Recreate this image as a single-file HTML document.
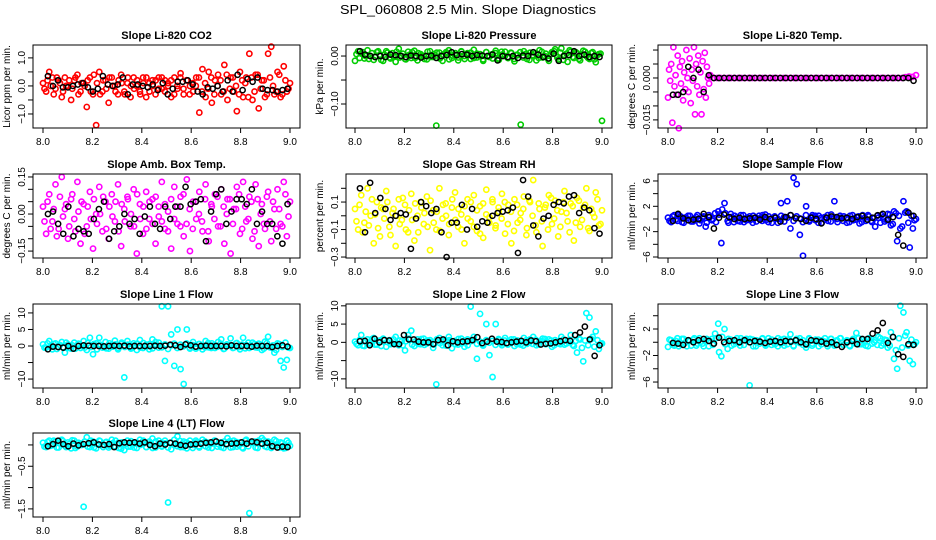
<!DOCTYPE html>
<html><head><meta charset="utf-8"><style>
html,body{margin:0;padding:0;background:#fff;}
svg{display:block;font-family:"Liberation Sans",sans-serif;}
</style></head><body>
<svg id="chart" width="936" height="540" viewBox="0 0 936 540" xmlns="http://www.w3.org/2000/svg">
<text x="468" y="14" text-anchor="middle" font-size="13" textLength="256" lengthAdjust="spacingAndGlyphs">SPL_060808  2.5 Min. Slope Diagnostics</text>
</svg>
<script>
const xTicks=[8.0,8.2,8.4,8.6,8.8,9.0];
const xTickLabels=["8.0","8.2","8.4","8.6","8.8","9.0"];

const co2=[0.1,-0.2,0.5,0.3,-0.1,0.2,-0.4,0.3,0.0,-0.5,0.2,0.4,-0.2,0.1,-0.75,0.3,-0.3,-1.4,0.5,-0.2,0.2,-0.6,0.3,0.0,-0.3,0.4,-0.2,0.1,-0.4,0.3,0.0,-0.2,0.3,-0.4,0.1,0.2,-0.3,0.3,-0.1,0.2,0.0,-0.4,0.3,-0.1,0.45,-0.3,0.2,0.0,-0.2,0.3,-0.95,0.6,-0.4,0.5,-0.6,0.2,0.4,-0.3,0.75,-0.5,0.3,-0.2,-0.9,0.5,-0.4,0.3,1.15,-0.5,0.4,-0.8,0.2,-0.4,1.15,1.4,-0.3,0.5,-0.4,0.7,-0.2,0.1];
const co2B=[-0.1,0.2,0.0,-0.3,0.3,0.1,-0.2,0.0,0.2,-0.1,0.3,-0.3,0.1,0.0,0.2,-0.2,0.4,0.1,-0.3,0.2,-0.1,0.3,0.0,-0.2,0.2,0.1,-0.3,0.3,0.0,-0.1,0.2,-0.3,0.1,0.3,-0.2,0.0,0.2,-0.1,0.3,-0.2,0.1,0.2,-0.3,0.0,0.3,-0.1,0.2,-0.3,0.1,0.0,0.3,-0.2,0.1,-0.1,0.3,-0.3,0.0,0.2,-0.2,0.4,-0.1,0.3,0.0,-0.3,0.2,0.1,-0.4,0.3,-0.2,0.4,-0.1,0.2,-0.3,0.3,0.0,-0.2,0.4,-0.3,0.2,-0.1];
const co2Black=[0.35,0.0,0.2,-0.05,-0.05,0.0,0.05,0.1,-0.05,-0.2,-0.1,0.35,0.05,0.0,0.05,0.3,-0.3,0.05,0.05,0.0,-0.05,0.05,-0.15,0.1,-0.3,-0.1,0.15,0.15,0.2,0.05,-0.2,-0.3,-0.05,-0.1,0.0,-0.2,0.2,-0.2,0.4,-0.15,0.25,0.15,0.3,-0.1,-0.15,-0.15,-0.2,-0.15,-0.1];
const pressure=[-0.01,0.01,0.005,-0.005,0.012,0.0,-0.008,0.008,0.003,-0.01,0.01,-0.003,0.006,-0.012,0.015,0.0,-0.006,0.009,-0.004,0.011,-0.009,0.004,0.0,-0.007,0.01,-0.002,-0.145,0.007,-0.01,0.005,0.012,-0.004,0.002,-0.009,0.01,0.0,0.006,-0.006,0.013,-0.003,0.004,-0.01,0.008,0.0,-0.005,0.011,-0.008,0.003,0.009,-0.004,0.006,-0.011,0.002,-0.143,0.01,-0.006,0.007,0.0,-0.009,0.012,-0.003,0.005,-0.01,0.008,0.014,-0.007,0.016,0.002,-0.012,0.009,-0.004,0.006,-0.009,0.011,0.0,-0.006,0.008,-0.013,0.004,-0.135];
const pressureB=[0.004,-0.004,0.008,0.0,-0.006,0.006,-0.002,0.01,-0.008,0.003,0.007,-0.005,0.0,0.009,-0.003,0.005,-0.007,0.002,0.008,-0.004,0.006,0.0,-0.006,0.009,-0.002,0.004,0.007,-0.005,0.003,0.008,-0.007,0.001,0.006,-0.003,0.009,-0.006,0.002,0.007,-0.004,0.005,0.0,-0.007,0.008,-0.002,0.004,0.006,-0.005,0.009,0.0,-0.004,0.007,-0.006,0.003,0.008,-0.003,0.005,-0.008,0.002,0.006,-0.004,0.009,0.0,-0.006,0.004,0.01,-0.003,0.007,-0.008,0.005,0.012,-0.002,0.008,-0.006,0.003,0.009,-0.004,0.006,-0.007,0.002,0.005];
const pressureBlack=[0.01,0.003,0.0,-0.002,0.0,-0.002,0.003,0.002,0.0,-0.002,0.001,0.0,-0.003,0.0,0.001,-0.004,0.0,0.002,0.008,0.002,0.004,0.003,0.0,0.002,0.001,0.0,0.003,-0.009,0.0,-0.002,0.0,-0.004,0.001,0.0,0.008,0.003,-0.002,-0.005,0.005,-0.01,0.0,0.002,0.01,0.0,0.003,-0.002,0.0,-0.002];
const tempEarly=[-0.007,0.003,-0.001,0.005,-0.016,0.011,-0.003,0.001,-0.006,0.008,-0.018,0.004,-0.002,0.006,-0.008,0.002,-0.004,0.01,0.0,-0.005,0.007,-0.009,0.003,-0.001,0.011,-0.013,0.005,-0.003,0.008,-0.006,0.002,-0.013,0.006,-0.004,0.009,-0.007,0.004,0.0,-0.002,0.001];
const tempLate=[0.0005,0,0,0,0,0,0,0,0,0,0,0,0,0,0,0,0,0,0,0,0,0,0,0,0,0,0,0,0,0,0,0,0,0,0,0,0,0,0,0,0,0,0,0,0,0,0,0,0,0,0,0,0,0,0,0,0.0003,0.0005,0.0004,0.001];
const tempBlack=[-0.006,-0.006,-0.005,0.004,0.0,0.003,-0.005,0.001,0,0,0,0,0,0,0,0,0,0,0,0,0,0,0,0,0,0,0,0,0,0,0,0,0,0,0,0,0,0,0,0,0,0,0,0,0,0,0,-0.001];
const ambTemp=[0.03,-0.08,0.08,-0.03,0.12,-0.06,0.15,0.02,-0.1,0.06,-0.02,0.13,-0.12,0.04,-0.05,0.09,-0.14,0.0,0.11,-0.07,0.05,-0.1,0.08,-0.03,0.12,-0.13,0.02,0.07,-0.05,0.1,-0.16,0.04,-0.08,0.09,-0.02,0.06,-0.12,0.03,0.13,-0.06,0.01,-0.14,0.11,-0.04,0.07,-0.09,0.14,-0.15,0.05,-0.02,0.09,-0.07,0.12,-0.11,0.03,0.08,-0.05,0.1,-0.12,0.06,-0.16,0.02,0.11,-0.08,0.13,-0.03,0.07,-0.1,0.12,-0.13,0.04,-0.06,0.09,-0.11,0.02,0.1,-0.04,0.13,-0.09,0.05];
const ambTempB=[-0.03,0.05,-0.06,0.02,-0.09,0.07,-0.01,0.04,-0.05,0.08,-0.07,0.01,0.05,-0.08,0.03,-0.02,0.06,-0.04,0.0,0.07,-0.06,0.03,-0.01,0.05,-0.07,0.04,-0.03,0.06,0.0,-0.05,0.08,-0.02,0.03,-0.06,0.05,-0.04,0.07,-0.01,-0.03,0.04,-0.07,0.06,-0.02,0.03,-0.05,0.08,-0.04,0.02,-0.06,0.05,0.0,-0.03,0.06,-0.07,0.04,-0.02,0.07,-0.05,0.03,0.0,0.06,-0.04,0.02,0.08,-0.06,0.03,-0.02,0.05,-0.07,0.06,0.0,-0.04,0.07,-0.03,0.05,-0.06,0.02,-0.05,0.08,-0.01];
const ambTempBlack=[0.0,0.01,-0.04,-0.08,0.03,-0.09,-0.06,-0.07,-0.08,-0.02,0.02,0.05,-0.1,-0.07,-0.05,0.0,-0.04,-0.02,-0.08,-0.01,0.03,-0.04,-0.06,0.03,-0.02,0.03,0.03,0.11,0.04,0.05,0.06,-0.11,0.01,0.08,0.1,-0.04,0.01,0.06,0.06,0.04,0.1,-0.04,0.01,-0.04,-0.04,-0.09,-0.12,0.04];
const gasRH=[0.05,-0.1,0.15,-0.05,0.2,0.0,-0.2,0.1,-0.15,0.05,0.18,-0.08,0.02,-0.22,0.12,-0.03,0.08,-0.12,0.16,-0.18,0.0,0.1,-0.06,0.14,-0.25,0.04,-0.1,0.2,-0.02,0.09,-0.14,0.06,0.17,-0.08,0.01,-0.2,0.12,-0.04,0.15,-0.11,0.07,-0.16,0.19,-0.01,0.1,-0.07,0.03,0.16,-0.13,0.08,-0.2,0.12,-0.05,0.02,0.14,-0.09,0.1,0.26,-0.12,0.05,-0.22,0.08,0.15,-0.06,0.11,-0.15,0.03,0.18,-0.04,0.09,-0.18,0.13,-0.08,0.06,0.2,-0.11,0.02,0.17,-0.07,0.04];
const gasRHB=[-0.04,0.08,-0.12,0.03,-0.07,0.12,0.01,-0.09,0.06,-0.02,0.1,-0.14,0.05,0.0,-0.06,0.13,-0.1,0.04,-0.03,0.09,-0.12,0.06,0.02,-0.08,0.11,-0.05,0.03,-0.11,0.08,0.0,-0.06,0.12,-0.03,0.05,-0.1,0.07,-0.02,0.1,-0.08,0.04,-0.13,0.09,0.01,-0.05,0.12,-0.09,0.06,-0.02,0.1,-0.06,0.03,-0.11,0.08,-0.03,0.05,-0.14,0.11,0.0,-0.07,0.09,-0.04,0.06,-0.1,0.13,-0.02,0.04,-0.08,0.1,0.02,-0.12,0.07,-0.05,0.11,-0.03,0.08,-0.09,0.05,-0.01,0.12,-0.06];
const gasRHBlack=[0.2,-0.12,0.24,0.02,0.13,0.05,-0.03,0.0,0.02,0.01,-0.24,-0.02,0.1,0.07,0.02,0.05,-0.12,-0.3,-0.05,-0.05,0.08,-0.1,0.05,-0.08,-0.04,-0.05,0.0,0.02,0.03,0.04,0.06,-0.27,0.26,0.14,-0.07,-0.15,-0.02,0.0,0.08,0.1,0.09,0.14,0.15,0.02,0.06,0.04,-0.09,-0.13];
const sampleFlow=[0.2,-0.5,0.6,-0.3,0.4,-0.6,0.1,0.5,-0.4,0.3,-0.7,0.2,-1.2,0.6,-0.2,0.9,1.2,-3.8,2.5,-0.3,0.8,-0.5,0.3,-0.4,0.6,-0.2,0.4,-0.6,0.2,0.5,-0.3,0.7,-0.5,0.1,0.4,-0.6,2.5,0.3,2.8,-1.5,6.5,5.5,-2.5,-5.8,2.0,-0.4,0.6,-0.2,0.5,-0.6,0.3,-0.3,0.7,2.8,-0.5,0.2,0.4,-0.6,0.5,-0.2,0.3,-0.7,0.6,-0.3,0.4,-0.5,-1.2,0.2,0.6,-0.4,0.8,-1.0,1.2,-3.5,-1.5,2.8,1.2,-4.5,-1.5,0.0];
const sampleFlowB=[-0.3,0.4,-0.1,0.6,-0.5,0.2,0.5,-0.4,0.1,0.6,-0.2,0.4,-0.6,0.3,0.0,-0.5,0.7,1.5,0.9,-0.6,0.3,0.5,-0.3,0.6,-0.5,0.2,-0.2,0.5,-0.4,0.1,0.6,-0.2,0.4,-0.6,0.3,0.0,0.5,-0.4,0.2,0.6,-0.3,0.4,0.1,-0.5,0.6,-0.2,0.3,0.5,-0.6,0.2,-0.1,0.6,-0.4,0.3,0.0,0.5,-0.3,0.2,-0.5,0.6,-0.1,0.4,-0.5,0.2,0.6,-0.3,0.1,0.5,-0.6,0.3,-0.2,0.7,-0.8,0.9,0.5,-1.2,1.0,-0.6,0.5,-0.2];
const sampleFlowBlack=[-0.3,0.8,0.1,-0.2,-0.1,0.0,0.8,0.3,-1.5,0.2,0.7,0.3,0.0,0.2,0.0,0.1,0.2,-0.1,0.3,0.0,0.2,-0.4,0.3,0.6,0.1,0.0,-0.3,0.2,0.0,-0.7,0.2,0.4,0.3,0.1,0.2,0.0,0.3,0.5,-0.1,0.2,0.6,0.8,-0.1,0.3,-2.5,-4.2,1.0,0.5];
const line1=[0.5,-0.5,1.5,-1.0,0.8,-0.3,1.2,-2.0,0.5,-0.8,1.0,0.2,-0.6,1.5,-1.2,2.5,-2.5,0.8,2.5,-0.5,1.2,-0.8,0.3,1.6,-1.0,0.6,-9.5,1.5,-0.4,0.8,-1.2,1.8,-0.6,0.4,-1.0,2.0,1.2,-0.5,12,-4.5,12,3.5,-6,5,-7,-11.5,5,-0.8,1.2,-0.3,0.6,-1.0,1.5,-0.4,0.8,-0.6,1.2,2.0,-0.8,0.4,2.3,-0.5,0.9,-1.0,2.5,0.3,-0.6,1.0,-0.4,0.7,-1.2,1.3,2.8,-0.5,-2.0,0.8,-4.5,-6.5,-4.2,-0.6];
const line1B=[-0.5,0.8,-0.2,0.6,-0.9,0.3,-0.4,1.0,-0.6,0.2,-0.8,0.7,0.0,-0.5,0.9,-0.3,0.6,-1.0,0.4,0.0,-0.7,0.8,-0.2,0.5,-0.6,1.0,-0.3,0.4,-0.8,0.2,0.7,-0.5,0.9,-0.2,0.6,-0.7,0.3,1.0,-0.4,0.5,-0.9,0.2,0.7,-0.6,0.4,-0.1,0.8,-0.5,0.3,-0.8,0.6,0.0,-0.4,0.9,-0.6,0.3,-0.2,0.7,-0.9,0.5,0.1,-0.6,0.8,-0.3,0.4,-0.7,1.0,-0.2,0.6,-0.5,0.3,-0.8,0.9,-0.4,0.2,-1.2,0.6,-0.3,1.0,-0.5];
const line1Black=[-1.0,-0.2,-0.3,-0.5,0.0,-0.8,0.0,0.2,0.1,0.0,0.0,-0.1,0.0,0.1,0.0,0.1,-0.1,0.0,0.0,0.0,0.0,0.1,0.0,0.1,0.4,0.2,-0.3,0.5,0.2,-0.2,0.0,0.1,0.0,0.0,0.0,-0.1,0.2,0.0,0.0,0.0,-0.2,0.1,0.0,0.0,-0.3,0.0,0.2,-0.2];
const line2=[0.2,-0.8,2.0,-1.0,0.8,-0.4,1.2,-0.6,0.5,1.0,-1.2,0.6,-0.3,1.5,-0.8,0.3,-2.2,2.0,3.2,-1.0,0.8,-0.5,1.0,-0.3,0.6,-1.5,-11.5,1.2,-0.8,0.5,1.5,-1.6,0.4,-0.6,1.0,-1.2,0.8,9.8,1.5,-4.5,7.8,-0.6,5,-3.5,-9.5,5,0.6,-0.8,1.2,-0.3,0.8,-1.0,0.5,-0.6,1.2,-0.4,0.8,1.5,-0.8,0.3,1.0,-0.5,0.8,-1.2,0.6,-0.3,1.5,-0.6,0.4,2.0,-1.0,-2.8,0.8,-5.2,8,6.8,1.5,3,-1.8,-0.3];
const line2B=[-0.4,0.6,-0.9,0.3,-0.2,0.9,-0.6,0.4,-1.0,0.7,0.1,-0.5,0.8,-0.3,0.5,-0.8,0.3,1.0,-0.6,0.2,-0.4,0.9,-0.7,0.5,0.0,-0.6,0.8,-0.2,0.4,-0.9,0.6,0.2,-0.5,0.9,-0.3,0.5,-0.8,0.3,0.7,-0.4,0.2,-0.9,0.6,-0.1,0.4,-0.7,0.9,-0.3,0.5,-0.6,0.2,0.8,-0.5,0.3,-0.9,0.6,0.0,-0.4,0.7,-0.6,0.4,0.9,-0.2,0.5,-0.8,0.3,-0.5,0.8,-0.3,0.6,-0.7,0.4,1.0,-1.5,0.5,-0.8,0.9,-1.2,0.6,-0.4];
const line2Black=[0.3,0.4,-0.8,1.0,0.0,0.6,0.5,-0.5,-0.5,2.0,0.8,0.8,0.2,0.0,0.0,-0.5,0.6,0.8,-0.8,0.3,0.0,0.2,0.3,0.6,1.4,-0.2,0.2,1.0,0.2,0.1,-0.2,0.0,0.2,0.4,0.0,0.5,0.3,-0.6,-0.4,-0.3,0.0,0.3,0.6,0.4,2.0,2.7,4.3,0.8,-3.7,-0.8];
const line3=[-0.7,0.3,-0.5,0.6,-0.3,0.5,-0.6,0.2,0.4,-0.5,0.6,-0.2,0.3,-0.6,0.5,1.3,2.8,-2.1,2.0,-1.0,0.4,-0.3,0.6,-0.5,0.3,0.5,-6.5,0.4,-0.6,0.2,0.5,-0.3,0.6,-0.4,0.2,-0.6,0.4,0.5,-0.3,1.2,-0.5,0.3,0.6,-0.4,-0.8,0.5,-0.2,0.4,-0.6,0.3,0.6,-0.3,0.5,-0.5,0.2,0.6,-0.4,0.3,-0.6,0.5,1.4,-0.3,0.4,-0.5,0.6,-0.2,0.3,0.8,-0.5,0.4,-0.8,1.5,-2.5,-4.0,5.5,4.5,1.5,-2.8,-3.3,0.0];
const line3B=[0.4,-0.4,0.2,-0.6,0.5,-0.1,0.3,-0.5,0.6,-0.2,0.1,-0.6,0.5,0.2,-0.4,0.6,-1.5,0.8,-0.3,0.5,-0.5,0.3,-0.1,0.6,-0.4,0.2,0.5,-0.6,0.3,-0.2,0.6,-0.5,0.1,0.4,-0.3,0.6,-0.2,-0.5,0.4,0.2,-0.6,0.5,-0.1,0.3,-0.4,0.6,-0.5,0.2,0.4,-0.3,0.1,-0.6,0.5,-0.2,0.3,0.6,-0.4,0.1,-0.5,0.4,-0.2,0.6,-0.3,0.2,-0.6,0.5,0.0,-0.4,0.6,-0.2,0.3,-0.5,0.8,-1.2,0.6,-0.8,1.0,-0.5,0.4,-0.3];
const line3Black=[-0.1,-0.2,-0.4,0.3,0.0,0.3,0.5,0.2,-0.2,0.7,0.0,0.2,0.3,0.0,0.3,0.0,0.2,0.1,-0.1,0.1,0.2,0.0,0.2,0.1,0.3,0.0,-0.3,0.3,0.2,0.1,-0.2,0.0,-0.4,-0.7,0.0,0.2,-0.3,0.5,0.5,1.3,1.8,2.9,-0.1,0.8,-1.8,-2.2,-0.3,-0.4];
const line4=[0.05,-0.05,0.1,0.0,0.08,-0.06,0.12,-0.02,0.06,-0.08,0.1,-0.04,0.03,-1.45,0.18,-0.05,0.08,-0.08,0.1,0.0,0.06,-0.06,0.12,-0.03,0.05,-0.09,-0.12,0.1,-0.04,0.06,-0.07,0.12,0.02,-0.05,0.08,0.15,-0.06,0.1,-0.02,0.04,-1.35,-0.1,0.12,0.2,-0.05,0.08,-0.08,0.1,0.0,0.06,-0.06,0.12,-0.03,0.05,-0.07,0.1,0.02,-0.05,0.08,0.16,-0.06,0.1,-0.04,0.06,-0.08,0.12,-1.6,0.05,-0.06,0.1,0.16,-0.03,0.08,-0.07,0.12,0.0,0.06,-0.08,0.1,-0.02];
const line4B=[-0.04,0.07,-0.02,0.1,-0.06,0.04,0.09,-0.05,0.02,0.11,-0.07,0.05,0.0,0.08,-0.04,0.1,-0.06,0.03,0.09,-0.05,0.07,-0.02,0.04,0.1,-0.07,0.06,0.01,-0.04,0.09,-0.06,0.05,0.0,0.1,-0.05,0.03,-0.07,0.08,0.02,-0.04,0.1,-0.06,0.05,0.0,-0.03,0.09,-0.05,0.06,0.02,-0.07,0.1,-0.03,0.04,0.08,-0.06,0.03,0.1,-0.04,0.06,-0.07,0.02,0.09,-0.05,0.07,0.0,-0.06,0.1,-0.03,0.05,0.08,-0.07,0.03,0.11,-0.05,0.06,-0.02,0.09,-0.06,0.04,-0.07,0.05];
const line4Black=[-0.03,0.02,0.1,0.02,-0.03,0.03,-0.01,0.02,0.04,0.06,0.01,0.0,0.02,-0.05,0.04,0.06,0.05,0.06,0.03,0.06,0.0,-0.03,0.03,0.01,0.05,0.03,0.0,-0.02,0.01,0.02,0.03,0.05,0.06,0.08,0.05,0.02,0.03,0.04,0.06,0.03,0.08,0.06,0.03,0.05,-0.03,-0.06,-0.04,-0.05];

const NS="http://www.w3.org/2000/svg";
const svg=document.getElementById('chart');
function mk(tag,attrs,parent){const e=document.createElementNS(NS,tag);for(const k in attrs)e.setAttribute(k,attrs[k]);(parent||svg).appendChild(e);return e;}

const cols=[{l:33,r:300,x0:43,x1:290},{l:346,r:612,x0:355,x1:602},{l:658,r:927,x0:668,x1:916}];
const rows=[{t:45,b:128},{t:174,b:258},{t:304,b:388},{t:433,b:517}];

const panels=[
 {name:"co2",title:"Slope Li-820 CO2",ylab:"Licor ppm per min.",c:0,r:0,ylo:-1.5,yhi:1.46,ticks:[-1,-0.5,0,0.5,1],labels:{"-1":"-1.0","0":"0.0","1":"1.0"},color:"#ff0000",series:[{v:co2,a:8,b:9},{v:co2B,a:8.006,b:8.994}],black:co2Black},
 {name:"pressure",title:"Slope Li-820 Pressure",ylab:"kPa per min.",c:1,r:0,ylo:-0.15,yhi:0.023,ticks:[0,-0.05,-0.1],labels:{"0":"0.00","-0.1":"-0.10"},color:"#00cc00",series:[{v:pressure,a:8,b:9},{v:pressureB,a:8.006,b:8.994}],black:pressureBlack},
 {name:"temp",title:"Slope Li-820 Temp.",ylab:"degrees C per min.",c:2,r:0,ylo:-0.0179,yhi:0.0118,ticks:[0.01,0.005,0,-0.005,-0.01,-0.015],labels:{"0":"0.000","-0.015":"-0.015"},color:"#ff00ff",series:[{v:tempEarly,a:8,b:8.17},{v:tempLate,a:8.17,b:9}],black:tempBlack},
 {name:"amb-temp",title:"Slope Amb. Box Temp.",ylab:"degrees C per min.",c:0,r:1,ylo:-0.178,yhi:0.162,ticks:[-0.15,-0.1,-0.05,0,0.05,0.1,0.15],labels:{"0.15":"0.15","0":"0.00","-0.15":"-0.15"},color:"#ff00ff",series:[{v:ambTemp,a:8,b:9},{v:ambTempB,a:8.006,b:8.994}],black:ambTempBlack},
 {name:"gas-rh",title:"Slope Gas Stream RH",ylab:"percent per min.",c:1,r:1,ylo:-0.307,yhi:0.304,ticks:[0.2,0.1,0,-0.1,-0.2,-0.3],labels:{"0.1":"0.1","-0.1":"-0.1","-0.3":"-0.3"},color:"#ffff00",series:[{v:gasRH,a:8,b:9},{v:gasRHB,a:8.006,b:8.994}],black:gasRHBlack},
 {name:"sample-flow",title:"Slope Sample Flow",ylab:"ml/min per min.",c:2,r:1,ylo:-6.16,yhi:7.1,ticks:[6,4,2,0,-2,-4,-6],labels:{"6":"6","2":"2","-2":"-2","-6":"-6"},color:"#0000ff",series:[{v:sampleFlow,a:8,b:9},{v:sampleFlowB,a:8.006,b:8.994}],black:sampleFlowBlack},
 {name:"line1-flow",title:"Slope Line 1 Flow",ylab:"ml/min per min.",c:0,r:2,ylo:-12.7,yhi:12.7,ticks:[10,5,0,-5,-10],labels:{"10":"10","5":"5","0":"0","-10":"-10"},color:"#00ffff",series:[{v:line1,a:8,b:9},{v:line1B,a:8.006,b:8.994}],black:line1Black},
 {name:"line2-flow",title:"Slope Line 2 Flow",ylab:"ml/min per min.",c:1,r:2,ylo:-12.5,yhi:10.5,ticks:[10,5,0,-5,-10],labels:{"10":"10","5":"5","0":"0","-10":"-10"},color:"#00ffff",series:[{v:line2,a:8,b:9},{v:line2B,a:8.006,b:8.994}],black:line2Black},
 {name:"line3-flow",title:"Slope Line 3 Flow",ylab:"ml/min per min.",c:2,r:2,ylo:-6.9,yhi:5.77,ticks:[4,2,0,-2,-4,-6],labels:{"2":"2","-2":"-2","-6":"-6"},color:"#00ffff",series:[{v:line3,a:8,b:9},{v:line3B,a:8.006,b:8.994}],black:line3Black},
 {name:"line4-flow",title:"Slope Line 4 (LT) Flow",ylab:"ml/min per min.",c:0,r:3,ylo:-1.69,yhi:0.28,ticks:[0,-0.5,-1,-1.5],labels:{"-0.5":"-0.5","-1.5":"-1.5"},color:"#00ffff",series:[{v:line4,a:8,b:9},{v:line4B,a:8.006,b:8.994}],black:line4Black}
];

panels.forEach(p=>{
 const C=cols[p.c],R=rows[p.r];
 const xs=v=>C.x0+(v-8)*(C.x1-C.x0);
 const ys=v=>R.b-(v-p.ylo)/(p.yhi-p.ylo)*(R.b-R.t);
 const g=mk('g',{});
 
 
 const t=mk('text',{x:(C.l+C.r)/2,y:R.t-6,'text-anchor':'middle','font-size':'11','font-weight':'bold'},g);
 t.textContent=p.title;
 
 
 const yl=mk('text',{transform:`translate(${C.l-23},${(R.t+R.b)/2}) rotate(-90)`,'text-anchor':'middle','font-size':'10'},g);
 yl.textContent=p.ylab;
 
 
 p.ticks.forEach(tv=>{
  const y=ys(tv);
  const tk=mk('line',{x1:C.l-5,x2:C.l,y1:y,y2:y,stroke:'#000','stroke-width':1},g);
  
  
  const lab=p.labels[String(tv)];
  if(lab){
   const lt=mk('text',{transform:`translate(${C.l-8},${y}) rotate(-90)`,'text-anchor':'middle','font-size':'10'},g);
   lt.textContent=lab.replace('-','\u2212');
   
   
  }
 });
 xTicks.forEach((xv,i)=>{
  const x=xs(xv);
  const tk=mk('line',{x1:x,x2:x,y1:R.b,y2:R.b+5,stroke:'#000','stroke-width':1},g);
  
  
  const lt=mk('text',{x:x,y:R.b+17,'text-anchor':'middle','font-size':'10'},g);
  lt.textContent=xTickLabels[i];
  
  
 });
 p.series.forEach(s=>{
  const n=s.v.length;
  s.v.forEach((v,i)=>{
   const tx=s.a+(s.b-s.a)*(n>1?i/(n-1):0);
   const c=mk('circle',{cx:xs(tx),cy:ys(v),r:2.6,fill:'none',stroke:p.color,'stroke-width':1.6},g);
   
   
  });
 });
 const nb=p.black.length;
 p.black.forEach((v,i)=>{
  const tx=8.02+0.97*i/(nb-1);
  const c=mk('circle',{cx:xs(tx),cy:ys(v),r:2.6,fill:'none',stroke:'#000','stroke-width':1.5},g);
  
  
 });
 const box=mk('rect',{x:C.l,y:R.t,width:C.r-C.l,height:R.b-R.t,fill:'none',stroke:'#000','stroke-width':1},g);
 
 
});
</script>
</body></html>
